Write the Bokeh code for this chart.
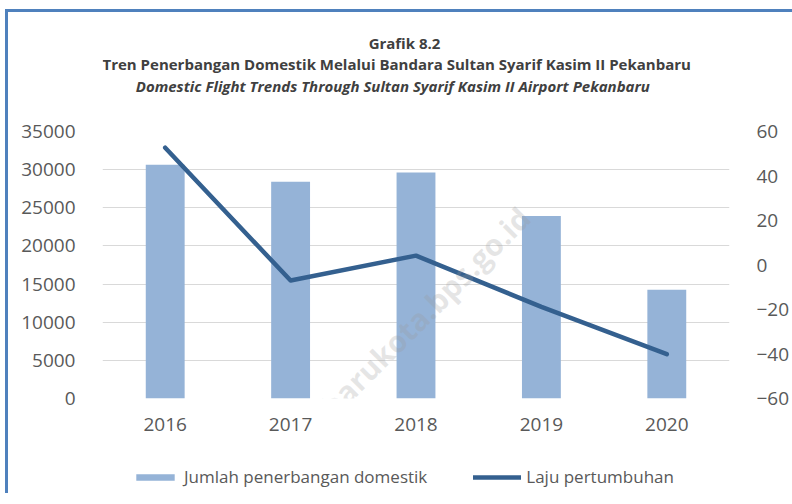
from bokeh.plotting import figure
from bokeh.models import (ColumnDataSource, Range1d, LinearAxis, FactorRange, Label,
                          Legend, LegendItem, FixedTicker)
from bokeh.layouts import column
from bokeh.embed import file_html
from bokeh.resources import INLINE

# ---- data ----
years = ["2016", "2017", "2018", "2019", "2020"]
flights = [30630, 28400, 29620, 23930, 14260]
growth = [52.7, -7.0, 4.2, -18.8, -40.1]
left_ticks = [0, 5000, 10000, 15000, 20000, 25000, 30000, 35000]
right_ticks = [-60, -40, -20, 0, 20, 40, 60]
title_1 = "Grafik 8.2"
title_2 = "Tren Penerbangan  Domestik  Melalui  Bandara Sultan  Syarif Kasim II Pekanbaru"
title_3 = "Domestic  Flight  Trends  Through  Sultan  Syarif Kasim  II Airport Pekanbaru"
bar_label = "Jumlah penerbangan domestik"
line_label = "Laju pertumbuhan"
watermark = "pekanbarukota.bps.go.id"

BAR = "#95b3d7"
LINE = "#34608f"
TXT = "#595959"
GRID = "#d9d9d9"
FONT = "Open Sans"
W = 784
BL, BR = 94, 57
FW, FH = 633, 267
NAN = float("nan")


def blank_fig(h):
    f = figure(width=W, height=h, output_backend="svg", toolbar_location=None,
               x_axis_type=None, y_axis_type=None, min_border_left=BL, min_border_right=BR,
               min_border_top=0, min_border_bottom=0,
               x_range=Range1d(0, 1), y_range=Range1d(0, 1))
    f.outline_line_color = None
    f.grid.visible = False
    return f


# ---- title block ----
tf = blank_fig(107)
for txt, yy, style in [(title_1, 77, "bold"), (title_2, 56, "bold"),
                       (title_3, 34, "bold italic")]:
    tf.add_layout(Label(x=302, y=yy, x_units="screen", y_units="screen", text=txt,
                        text_align="center", text_baseline="middle", text_font=FONT,
                        text_font_size="15px", text_font_style=style, text_color="#404040"))

# ---- main chart ----
src = ColumnDataSource(dict(x=years, flights=flights, growth=growth))

p = figure(x_range=FactorRange(*years, range_padding=0), y_range=Range1d(0, 35000),
           width=W, height=12 + FH + 45, output_backend="svg", toolbar_location=None,
           min_border_left=BL, min_border_top=12, min_border_right=BR, min_border_bottom=45)
p.outline_line_color = None
p.extra_y_ranges = {"right": Range1d(-60, 60)}

bars = p.vbar(x="x", top="flights", width=0.31, source=src, fill_color=BAR, line_color=None)
line = p.line(x="x", y="growth", source=src, y_range_name="right", line_color=LINE,
              line_width=4.5, line_cap="round", line_join="round")


def style_axis(ax):
    ax.axis_line_color = None
    ax.major_tick_line_color = None
    ax.minor_tick_line_color = None
    ax.major_label_text_color = TXT
    ax.major_label_text_font = FONT
    ax.major_label_text_font_size = "19px"


p.yaxis.ticker = FixedTicker(ticks=left_ticks)
style_axis(p.yaxis[0])
p.yaxis.major_label_standoff = 21

ax_r = LinearAxis(y_range_name="right", ticker=FixedTicker(ticks=right_ticks))
style_axis(ax_r)
ax_r.major_label_standoff = 21
p.add_layout(ax_r, "right")

style_axis(p.xaxis[0])
p.xaxis.major_label_standoff = 13
p.xgrid.grid_line_color = None
p.ygrid.grid_line_color = GRID
p.ygrid.grid_line_width = 1

# watermark
p.add_layout(Label(x=422, y=186, x_units="screen", y_units="screen", text=watermark,
                   text_align="right", text_baseline="middle", angle=45, angle_units="deg",
                   text_font=FONT, text_font_size="30px", text_font_style="bold",
                   text_color="#9a9a9a", text_alpha=0.25))

# ---- legend block (proxy glyphs styled like the chart's, no visible data) ----
lf = blank_fig(50)
pb = lf.vbar(x=[NAN], top=[NAN], width=0.3, fill_color=BAR, line_color=None)
pl = lf.line(x=[NAN, NAN], y=[NAN, NAN], line_color=LINE, line_width=4.5, line_cap="round")
legend = Legend(items=[LegendItem(label=bar_label, renderers=[pb]),
                       LegendItem(label=line_label, renderers=[pl])],
                orientation="horizontal", location=(29, 5),
                glyph_width=48, glyph_height=8, label_height=8, label_standoff=5,
                spacing=46, padding=0, margin=0, border_line_color=None,
                background_fill_alpha=0, label_text_font=FONT, label_text_font_size="17px",
                label_text_color=TXT, label_text_baseline="middle")
lf.add_layout(legend, "center")

layout = column(tf, p, lf, spacing=0,
                styles={"border-top": "3px solid #4f81bd", "border-left": "3px solid #4f81bd",
                        "margin-left": "5px", "margin-top": "9px"})

open("out.html", "w").write(file_html(layout, INLINE))
